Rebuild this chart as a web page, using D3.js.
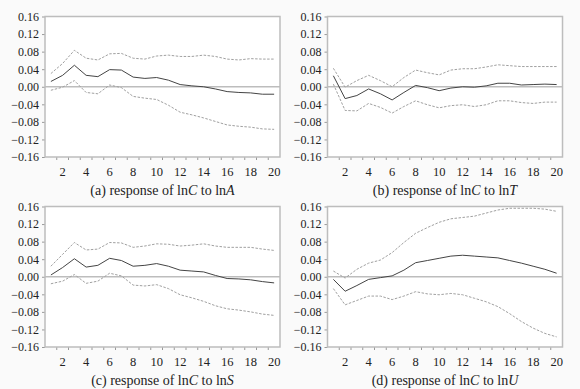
<!DOCTYPE html>
<html><head><meta charset="utf-8">
<script src="https://cdn.jsdelivr.net/npm/d3@7"></script>
<style>
html,body{margin:0;padding:0;background:#fafafa;}
svg{display:block;}
</style></head>
<body>
<script>
const periods = d3.range(1, 21);
const yTicks = [-0.16, -0.12, -0.08, -0.04, 0.00, 0.04, 0.08, 0.12, 0.16];
const xTickLabels = [2, 4, 6, 8, 10, 12, 14, 16, 18, 20];

const respA = [0.012,0.026,0.049,0.026,0.023,0.039,0.038,0.022,0.019,0.021,0.015,0.005,0.002,0.000,-0.005,-0.011,-0.013,-0.014,-0.017,-0.017];
const upperA = [0.030,0.053,0.083,0.065,0.061,0.075,0.076,0.065,0.063,0.070,0.072,0.069,0.069,0.072,0.069,0.063,0.061,0.064,0.063,0.063];
const lowerA = [-0.008,-0.001,0.014,-0.013,-0.016,0.004,-0.002,-0.022,-0.026,-0.029,-0.042,-0.058,-0.064,-0.071,-0.079,-0.087,-0.090,-0.092,-0.096,-0.097];

const respB = [0.025,-0.027,-0.020,-0.005,-0.016,-0.030,-0.013,0.003,-0.002,-0.009,-0.003,0.000,-0.001,0.002,0.008,0.008,0.004,0.005,0.006,0.005];
const upperB = [0.042,-0.001,0.014,0.026,0.014,0.000,0.021,0.038,0.032,0.027,0.038,0.041,0.041,0.045,0.050,0.048,0.046,0.046,0.046,0.046];
const lowerB = [0.006,-0.054,-0.055,-0.038,-0.047,-0.060,-0.045,-0.032,-0.041,-0.048,-0.043,-0.041,-0.045,-0.041,-0.032,-0.032,-0.036,-0.038,-0.035,-0.035];

const respC = [0.004,0.021,0.041,0.022,0.026,0.042,0.037,0.024,0.026,0.030,0.024,0.015,0.013,0.011,0.003,-0.004,-0.005,-0.007,-0.011,-0.014];
const upperC = [0.024,0.051,0.078,0.061,0.063,0.078,0.077,0.067,0.070,0.075,0.074,0.070,0.072,0.075,0.070,0.067,0.067,0.067,0.063,0.060];
const lowerC = [-0.016,-0.010,0.005,-0.015,-0.010,0.008,0.002,-0.019,-0.021,-0.018,-0.027,-0.041,-0.048,-0.056,-0.066,-0.073,-0.076,-0.080,-0.085,-0.088];

const respD = [-0.006,-0.033,-0.020,-0.006,-0.002,0.002,0.015,0.032,0.037,0.042,0.047,0.049,0.047,0.045,0.043,0.037,0.031,0.024,0.017,0.008];
const upperD = [0.013,-0.003,0.017,0.031,0.038,0.055,0.078,0.099,0.112,0.124,0.132,0.135,0.138,0.145,0.152,0.156,0.156,0.156,0.154,0.149];
const lowerD = [-0.027,-0.064,-0.054,-0.044,-0.044,-0.052,-0.044,-0.034,-0.039,-0.041,-0.038,-0.041,-0.049,-0.057,-0.068,-0.084,-0.102,-0.117,-0.129,-0.137];

const panels = [
  {tag:"(a)", shock:"A", resp:respA, upper:upperA, lower:lowerA, left:45, top:16.5},
  {tag:"(b)", shock:"T", resp:respB, upper:upperB, lower:lowerB, left:327.5, top:16.5},
  {tag:"(c)", shock:"S", resp:respC, upper:upperC, lower:lowerC, left:45, top:206.5},
  {tag:"(d)", shock:"U", resp:respD, upper:upperD, lower:lowerD, left:327.5, top:206.5}
];
const W = 235, H = 140.5;
const FONT = '"Liberation Serif", "Times New Roman", serif';

const svg = d3.select("body").append("svg").attr("width",580).attr("height",389);

panels.forEach(p => {
  const g = svg.append("g").attr("transform",`translate(${p.left},${p.top})`);
  const x = d3.scaleBand().domain(periods).range([0,W]);
  const y = d3.scaleLinear().domain([-0.16,0.16]).range([H,0]);
  const cx = d => x(d) + x.bandwidth()/2;

  g.append("rect").attr("width",W).attr("height",H).attr("fill","#fff");

  g.append("line").attr("x1",0).attr("x2",W).attr("y1",y(0)).attr("y2",y(0))
    .attr("stroke","#bdbdbd").attr("stroke-width",1.5);

  const ya = g.append("g").call(d3.axisLeft(y).tickValues(yTicks).tickSize(3).tickPadding(3)
      .tickFormat(d => d3.format(".2f")(d).replace("-", "\u2212")));
  ya.select(".domain").remove();
  ya.selectAll(".tick line").attr("stroke","#999");
  ya.selectAll("text").style("font-family",FONT).style("font-size","12px").attr("fill","#222");

  const bounds = d3.range(1, 20);
  g.selectAll(".xt").data(bounds).enter().append("line")
    .attr("x1",d=>x(periods[d])).attr("x2",d=>x(periods[d]))
    .attr("y1",H).attr("y2",H+3).attr("stroke","#999");
  g.selectAll(".xl").data(xTickLabels).enter().append("text")
    .attr("x",d=>cx(d)).attr("y",H+18.5).attr("text-anchor","middle")
    .style("font-family",FONT).style("font-size","12.5px").attr("fill","#222").text(d=>d);

  g.append("rect").attr("width",W).attr("height",H).attr("fill","none")
    .attr("stroke","#bdbdbd").attr("stroke-width",1.5);

  const line = d3.line().x((d,i)=>cx(periods[i])).y(d=>y(d));
  g.append("path").datum(p.upper).attr("d",line).attr("fill","none")
    .attr("stroke","#a0a0a0").attr("stroke-width",1).attr("stroke-dasharray","2.5,1.5");
  g.append("path").datum(p.lower).attr("d",line).attr("fill","none")
    .attr("stroke","#a0a0a0").attr("stroke-width",1).attr("stroke-dasharray","2.5,1.5");
  g.append("path").datum(p.resp).attr("d",line).attr("fill","none")
    .attr("stroke","#444").attr("stroke-width",1);

  const cap = g.append("text").attr("x",W/2).attr("y",H+37.5).attr("text-anchor","middle")
    .style("font-family",FONT).style("font-size","14px").attr("fill","#222");
  cap.append("tspan").text(p.tag + " response of ln");
  cap.append("tspan").style("font-style","italic").text("C");
  cap.append("tspan").text(" to ln");
  cap.append("tspan").style("font-style","italic").text(p.shock);
});
</script>
</body></html>
